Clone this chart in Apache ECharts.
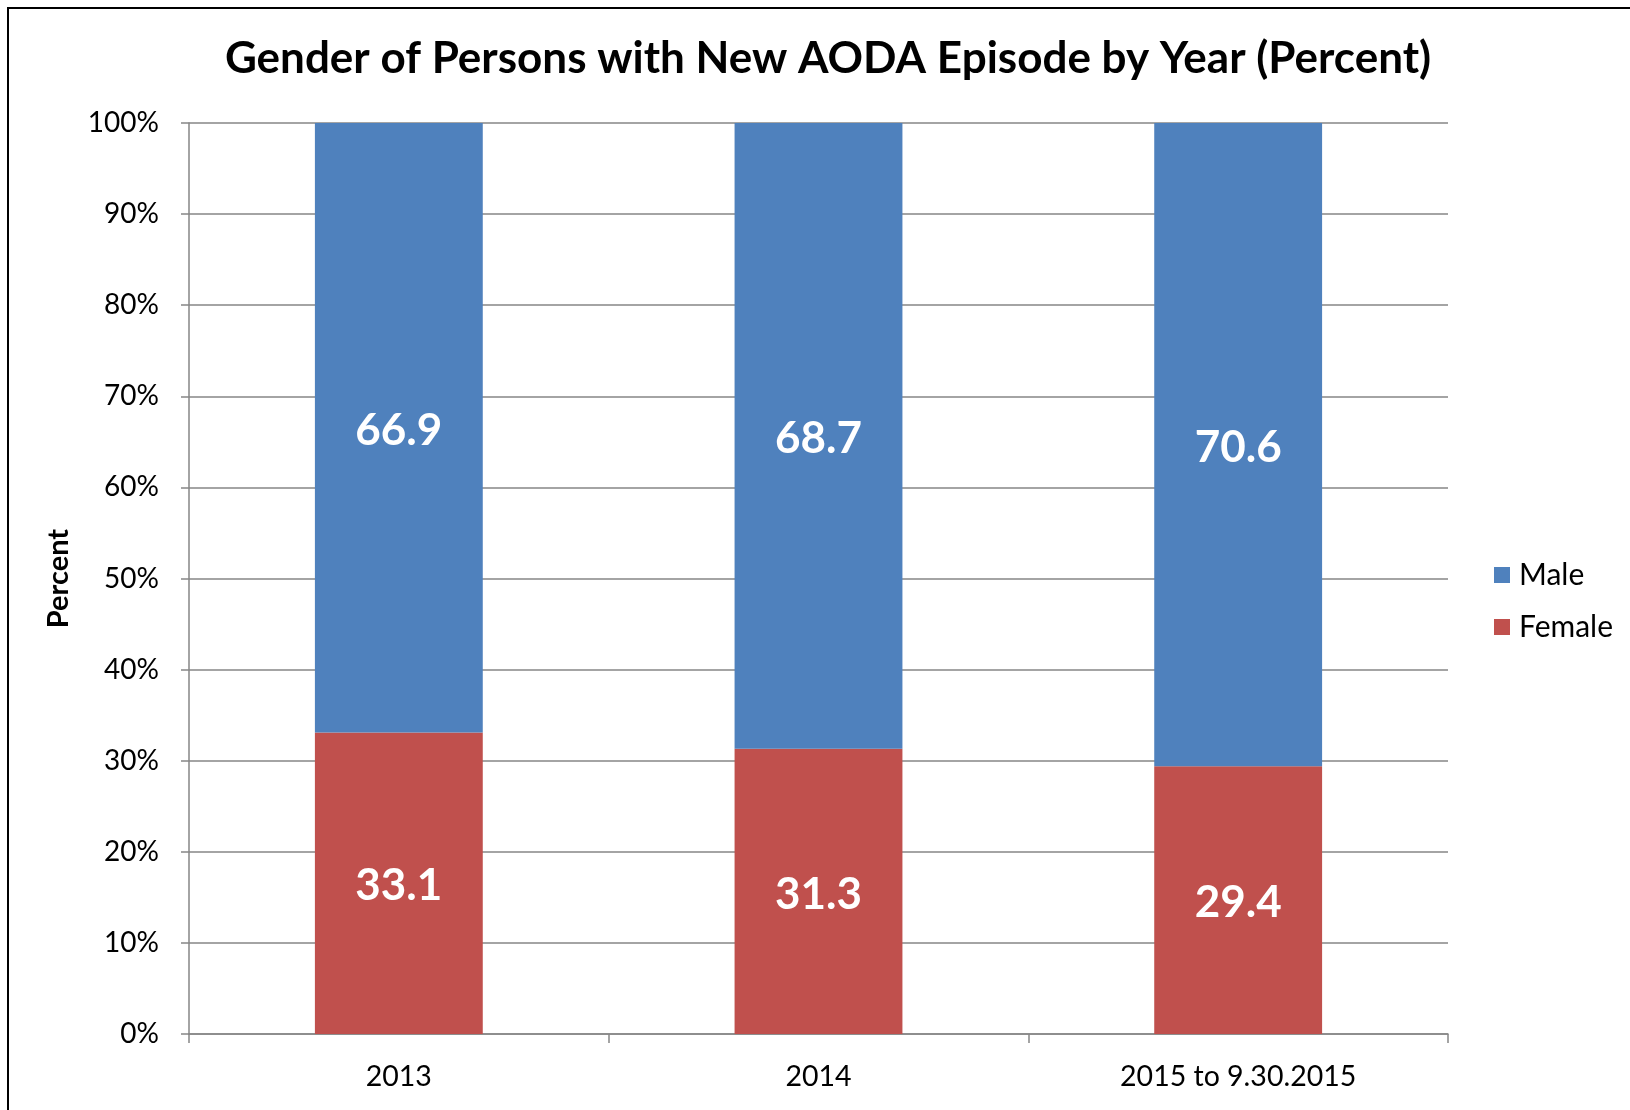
<!DOCTYPE html>
<html>
<head>
<meta charset="utf-8">
<script src="https://cdn.jsdelivr.net/npm/echarts@6/dist/echarts.min.js"></script>
<style>
    html, body { margin: 0; padding: 0; background: #fff; }
    #wrap { position: relative; width: 1630px; height: 1110px; }
    #frame { position: absolute; left: 7px; top: 7px; right: 0; bottom: 0;
             border-left: 2px solid #000; border-top: 2px solid #000; pointer-events: none; }
    #chart { position: absolute; left: 0; top: 0; width: 1630px; height: 1110px; }
</style>
</head>
<body>
<div id="wrap">
    <div id="chart"></div>
    <div id="frame"></div>
</div>
<script>
    // data
    const years = ['2013', '2014', '2015 to 9.30.2015'];
    const female = [33.1, 31.3, 29.4];
    const male = [66.9, 68.7, 70.6];
    const yTicks = [0, 10, 20, 30, 40, 50, 60, 70, 80, 90, 100];

    const FONT = 'Lato, "Open Sans", sans-serif';
    const gridGray = '#868686';

    const chart = echarts.init(document.getElementById('chart'));

    const barLabel = {
        show: true,
        position: 'inside',
        color: '#fff',
        fontFamily: FONT,
        fontWeight: 'bold',
        fontSize: 44,
        offset: [0, 3],
        formatter: p => p.value.toFixed(1)
    };

    chart.setOption({
        animation: false,
        title: {
            text: 'Gender of Persons with New AODA Episode by Year (Percent)',
            left: 823,
            textAlign: 'center',
            top: 32,
            textStyle: { fontFamily: FONT, fontWeight: 'bold', fontSize: 44, color: '#000' }
        },
        legend: {
            orient: 'vertical',
            left: 1489,
            top: 555,
            itemWidth: 16,
            itemHeight: 16,
            itemGap: 22,
            icon: 'rect',
            data: ['Male', 'Female'],
            textStyle: { fontFamily: FONT, fontSize: 30, color: '#000', padding: [0, 0, 0, 4] }
        },
        grid: { left: 189, right: 182, top: 123, bottom: 76, containLabel: false },
        xAxis: {
            type: 'category',
            data: years,
            axisLine: { lineStyle: { color: gridGray, width: 1.5 } },
            axisTick: { show: true, length: 9, lineStyle: { color: gridGray, width: 1.5 } },
            axisLabel: { margin: 28, fontFamily: FONT, fontSize: 28.5, color: '#000' }
        },
        yAxis: {
            type: 'value',
            min: yTicks[0],
            max: yTicks[yTicks.length - 1],
            interval: yTicks[1] - yTicks[0],
            name: 'Percent',
            nameLocation: 'middle',
            nameRotate: 90,
            nameGap: 116,
            nameTextStyle: { fontFamily: FONT, fontWeight: 'bold', fontSize: 29, color: '#000' },
            axisLine: { show: true, lineStyle: { color: gridGray, width: 1.5 } },
            axisTick: { show: true, length: 8, lineStyle: { color: gridGray, width: 1.5 } },
            axisLabel: { margin: 30, fontFamily: FONT, fontSize: 28, color: '#000', formatter: '{value}%' },
            splitLine: { show: true, lineStyle: { color: gridGray, width: 1.5 } }
        },
        series: [
            {
                name: 'Female',
                type: 'bar',
                stack: 'total',
                barWidth: '40%',
                data: female,
                itemStyle: { color: '#C0504D' },
                label: barLabel
            },
            {
                name: 'Male',
                type: 'bar',
                stack: 'total',
                barWidth: '40%',
                data: male,
                itemStyle: { color: '#4F81BD' },
                label: barLabel
            }
        ]
    });
</script>
</body>
</html>
